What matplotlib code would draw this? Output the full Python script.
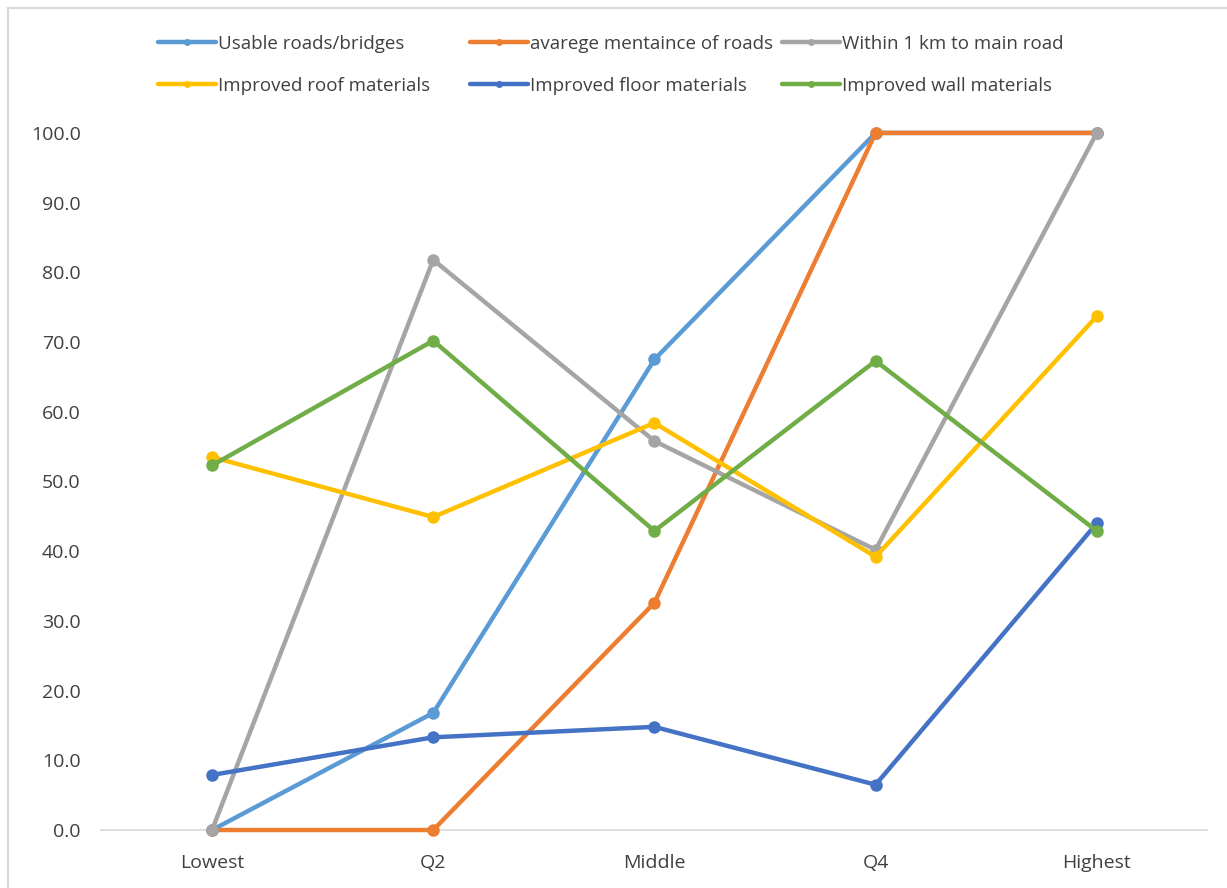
import matplotlib.pyplot as plt
from matplotlib.lines import Line2D

categories = ["Lowest", "Q2", "Middle", "Q4", "Highest"]

usable_roads = [0.0, 16.8, 67.5, 100.0, 100.0]
road_maintenance = [0.0, 0.0, 32.6, 100.0, 100.0]
near_main_road = [0.0, 81.8, 55.8, 40.2, 100.0]
roof_materials = [53.5, 44.9, 58.4, 39.2, 73.7]
floor_materials = [7.9, 13.3, 14.8, 6.5, 44.0]
wall_materials = [52.3, 70.2, 42.9, 67.3, 42.9]

series_names = ["Usable roads/bridges", "avarege mentaince of roads", "Within 1 km to main road",
                "Improved roof materials", "Improved floor materials", "Improved wall materials"]
series_values = [usable_roads, road_maintenance, near_main_road,
                 roof_materials, floor_materials, wall_materials]
colors = ["#5B9BD5", "#ED7D31", "#A5A5A5", "#FFC000", "#4472C4", "#70AD47"]

plt.rcParams["font.family"] = ["Open Sans", "DejaVu Sans"]
TEXT = "#404040"

fig = plt.figure(figsize=(12.27, 8.88), dpi=100)
ax = fig.add_axes([0.0827, 0.0653, 0.9013, 0.7850])

x = list(range(len(categories)))
handles = []
for name, vals, c in zip(series_names, series_values, colors):
    h, = ax.plot(x, vals, color=c, lw=3.2, marker="o", markersize=8,
                 solid_capstyle="round", clip_on=False, label=name)
    handles.append(h)

ax.set_xlim(-0.5, 4.5)
ax.set_ylim(0, 100)
ax.set_yticks(range(0, 101, 10))
ax.set_yticklabels([f"{v:.1f}" for v in range(0, 101, 10)])
ax.set_xticks(x)
ax.set_xticklabels(categories)
ax.tick_params(axis="both", length=0, labelsize=14, colors=TEXT)
ax.tick_params(axis="x", pad=17)
ax.tick_params(axis="y", pad=15)
for s in ["top", "right", "left"]:
    ax.spines[s].set_visible(False)
ax.spines["bottom"].set_color("#D9D9D9")
ax.spines["bottom"].set_linewidth(1.2)
ax.spines["bottom"].set_zorder(0)

# legend entries laid out on a fixed grid, row by row, like the original
col_x = [158 / 1227, 470 / 1227, 782 / 1227]
row_y = [1 - 44 / 888, 1 - 86 / 888]
for i, h in enumerate(handles):
    fig.legend(handles=[h], loc="center left",
               bbox_to_anchor=(col_x[i % 3], row_y[i // 3]),
               frameon=False, fontsize=13.5, labelcolor=TEXT, handlelength=3.1,
               handletextpad=0.1, borderpad=0, borderaxespad=0, markerscale=0.5)

# chart frame (left and top edges visible)
fig.add_artist(Line2D([8 / 1227, 8 / 1227], [0, 1 - 8 / 888], transform=fig.transFigure,
                      color="#D9D9D9", lw=1.5))
fig.add_artist(Line2D([8 / 1227, 1], [1 - 8 / 888, 1 - 8 / 888], transform=fig.transFigure,
                      color="#D9D9D9", lw=1.5))

fig.savefig("out.png", dpi=100)
